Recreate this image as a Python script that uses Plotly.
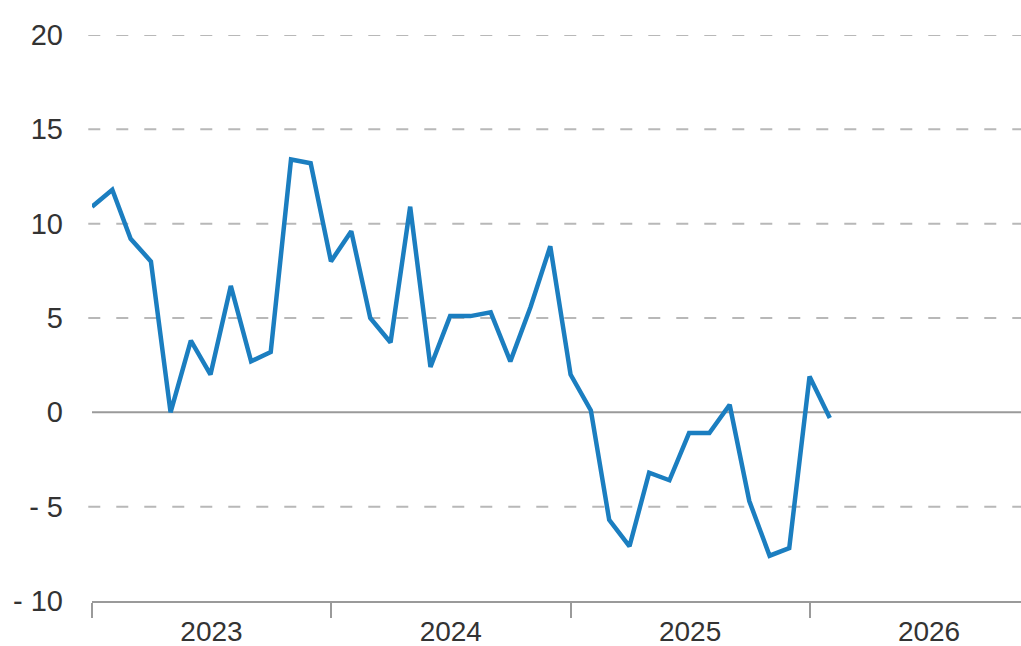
import plotly.graph_objects as go
import pandas as pd

months = pd.date_range("2023-01-01", "2026-02-01", freq="MS")
values = [10.9, 11.8, 9.2, 8.0, 0.0, 3.8, 2.0, 6.7, 2.7, 3.2, 13.4, 13.2,
          8.0, 9.6, 5.0, 3.7, 10.9, 2.4, 5.1, 5.1, 5.3, 2.7, 5.6, 8.8,
          2.0, 0.1, -5.7, -7.1, -3.2, -3.6, -1.1, -1.1, 0.4, -4.7, -7.6, -7.2,
          1.9, -0.3]
y_ticks = [-10, -5, 0, 5, 10, 15, 20]
y_labels = ["- 10", "- 5", "0", "5", "10", "15", "20"]
grid_vals = [-5, 5, 10, 15, 20]

fig = go.Figure()
fig.add_trace(go.Scatter(x=months, y=values, mode="lines",
                         line=dict(color="#1b7ec0", width=4.5),
                         showlegend=False, hoverinfo="skip"))

for g in grid_vals:
    fig.add_shape(type="line", xref="paper", yref="y", x0=-0.004, x1=1, y0=g, y1=g,
                  line=dict(color="#b8b8b8", width=2, dash="12px,16px"), layer="below")
fig.add_shape(type="line", xref="paper", yref="y", x0=0, x1=1, y0=0, y1=0,
              line=dict(color="#9a9a9a", width=2), layer="below")

fig.update_layout(
    width=1021, height=646,
    margin=dict(l=92, r=0, t=35, b=45),
    plot_bgcolor="white", paper_bgcolor="white",
    font=dict(family="Liberation Sans, Arial, sans-serif", size=29, color="#333333"),
    xaxis=dict(
        range=["2023-01-01", "2026-11-20"],
        tickformat="%Y", dtick="M12", tick0="2023-01-01",
        ticklabelmode="period",
        showgrid=False, zeroline=False, automargin=False,
        showline=True, linecolor="#9a9a9a", linewidth=2,
        ticks="outside", ticklen=15, tickcolor="#9a9a9a", tickwidth=2,
        ticklabelstandoff=-11,
        tickfont=dict(size=28, color="#333333"),
    ),
    yaxis=dict(
        range=[-10, 20],
        tickvals=y_ticks, ticktext=y_labels,
        showgrid=False, zeroline=False, showline=False, automargin=False,
        ticks="", ticklabelstandoff=28,
        tickfont=dict(size=29, color="#333333"),
    ),
)

fig.write_html("out.html", config={"displayModeBar": False},
               post_script="document.body.style.margin='0';document.body.style.overflow='hidden';")
